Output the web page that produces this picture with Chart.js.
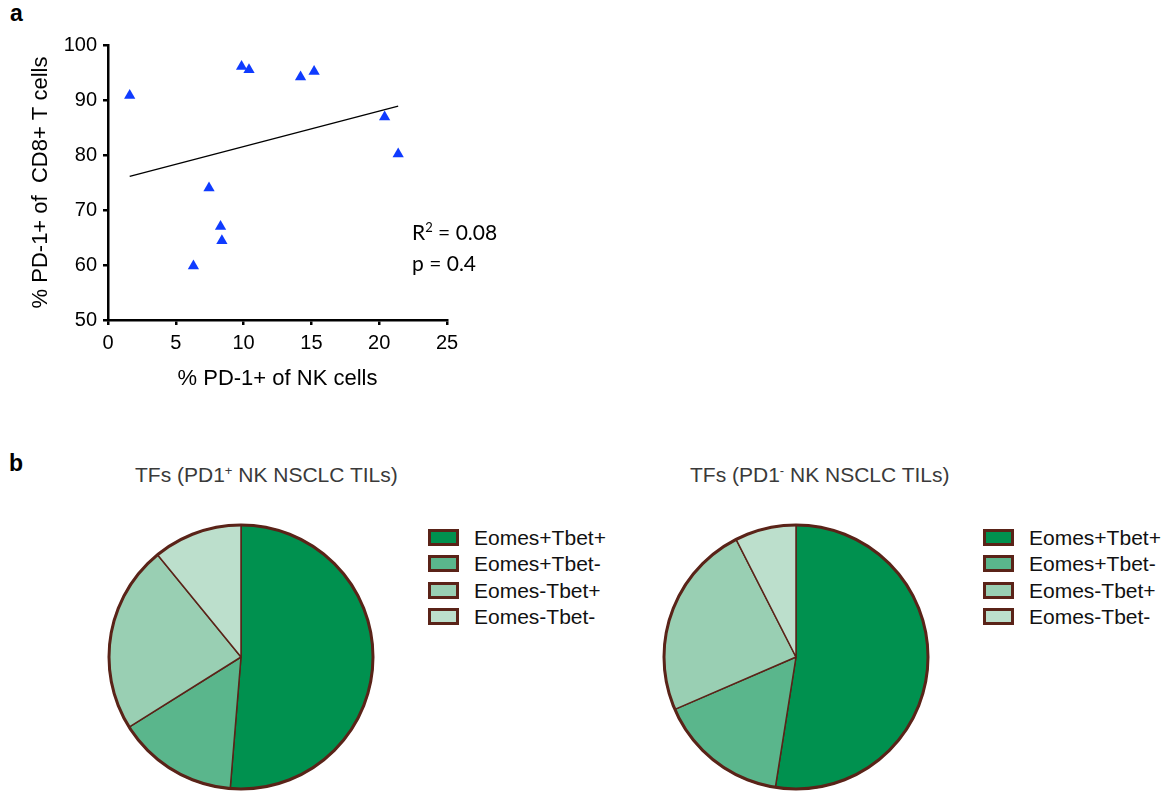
<!DOCTYPE html>
<html>
<head>
<meta charset="utf-8">
<script src="https://cdn.jsdelivr.net/npm/chart.js@4.4.1/dist/chart.umd.min.js"></script>
<style>
  body { margin: 0; background: #fff; width: 1172px; height: 794px; position: relative; overflow: hidden; font-family: "Liberation Sans", Arial, sans-serif; }
  canvas, .abs { position: absolute; }
  .panel { font-weight: bold; font-size: 23px; line-height: 23px; color: #000; }
  .stat { font-family: Lato, sans-serif; font-size: 21px; line-height: 21px; color: #000; }
  .pie-title { font-size: 21px; line-height: 21px; color: #3a3a3a; white-space: nowrap; }
  .pie-title sup { font-size: 13px; vertical-align: 7px; line-height: 0; }
  .stat sup { font-size: 13px; vertical-align: 8px; line-height: 0; }
  .leg-item { position: absolute; height: 17px; white-space: nowrap; }
  .leg-box { position: absolute; left: 0; top: 0; width: 25px; height: 11px; border: 3px solid #5a2318; }
  .leg-text { position: absolute; left: 46px; top: -2px; font-size: 21px; line-height: 21px; color: #111; }
</style>
</head>
<body>
<div class="abs panel" style="left:10px; top:2px;">a</div>
<div class="abs panel" style="left:9px; top:452px;">b</div>

<canvas id="scatter" width="500" height="400" style="left:0; top:0;"></canvas>
<div class="abs stat" style="left:412px; top:221px;">R<sup>2</sup> = 0.08</div>
<div class="abs stat" style="left:412px; top:252px;">p = 0.4</div>

<div class="abs pie-title" style="left:135px; top:464px;">TFs (PD1<sup>+</sup> NK NSCLC TILs)</div>
<div class="abs pie-title" style="left:690px; top:464px;">TFs (PD1<sup>-</sup> NK NSCLC TILs)</div>
<canvas id="pie1" width="300" height="300" style="left:91px; top:507px;"></canvas>
<canvas id="pie2" width="300" height="300" style="left:646px; top:507px;"></canvas>
<div id="legend1"></div>
<div id="legend2"></div>

<script>
// panel a: % PD-1+ of NK cells vs % PD-1+ of CD8+ T cells
const nkPD1 = [1.6, 9.85, 10.4, 14.2, 15.2, 20.4, 21.4, 7.45, 8.3, 8.4, 6.3];
const cd8PD1 = [90.8, 96.1, 95.5, 94.2, 95.2, 86.9, 80.2, 74.0, 67.0, 64.4, 59.8];
const fitX = [1.6, 21.4];
const fitY = [76.1, 88.9];

// panel b: transcription factor subsets (% of NK TILs)
const tfLabels = ["Eomes+Tbet+", "Eomes+Tbet-", "Eomes-Tbet+", "Eomes-Tbet-"];
const pd1PosShares = [51.3, 14.8, 23.0, 10.9];
const pd1NegShares = [52.5, 16.0, 24.0, 7.5];
const tfColors = ["#00914f", "#5ab68c", "#99cfb3", "#bcdfcc"];
const edgeColor = "#5a2318";

const axisFont = { family: "'Liberation Sans', Arial, sans-serif", size: 20 };
const titleFont = { family: "'Liberation Sans', Arial, sans-serif", size: 22 };

function axis(min, max, step, title, fitFn, titlePad) {
  return {
    min, max,
    ticks: { stepSize: step, color: "#000", font: axisFont, padding: 6 },
    grid: { drawOnChartArea: false, drawTicks: true, tickLength: 5, color: "#000", lineWidth: 2.5 },
    border: { color: "#000", width: 2.5 },
    title: { display: true, text: title, color: "#000", font: titleFont, padding: titlePad },
    afterFit: fitFn
  };
}

new Chart(document.getElementById("scatter"), {
  type: "scatter",
  data: {
    datasets: [
      {
        data: nkPD1.map((x, i) => ({ x, y: cd8PD1[i] })),
        pointStyle: "triangle", pointRadius: 6.5,
        backgroundColor: "#0f3bff", borderColor: "#0f3bff", borderWidth: 0
      },
      {
        type: "line",
        data: fitX.map((x, i) => ({ x, y: fitY[i] })),
        borderColor: "#000", borderWidth: 1.3, pointRadius: 0, fill: false
      }
    ]
  },
  options: {
    responsive: false, animation: false,
    layout: { padding: { top: 45, right: 53, left: 0, bottom: 0 } },
    plugins: { legend: { display: false }, tooltip: { enabled: false } },
    scales: {
      x: axis(0, 25, 5, "% PD-1+ of NK cells", s => { s.height = 80; }, { top: 0, bottom: 8 }),
      y: axis(50, 100, 10, "% PD-1+ of  CD8+ T cells", s => { s.width = 108; }, { top: 28, bottom: 0 })
    }
  }
});

// thicker outer rim, like the original figure
const rimPlugin = {
  id: "rim",
  afterDatasetsDraw(chart) {
    const arc = chart.getDatasetMeta(0).data[0];
    if (!arc) return;
    const ctx = chart.ctx;
    ctx.save();
    ctx.beginPath();
    ctx.arc(arc.x, arc.y, arc.outerRadius, 0, Math.PI * 2);
    ctx.lineWidth = 3;
    ctx.strokeStyle = edgeColor;
    ctx.stroke();
    ctx.restore();
  }
};

function makePie(id, values) {
  new Chart(document.getElementById(id), {
    type: "pie",
    data: {
      labels: tfLabels,
      datasets: [{ data: values, backgroundColor: tfColors, borderColor: edgeColor, borderWidth: 1.5 }]
    },
    options: {
      responsive: false, animation: false,
      radius: 132,
      plugins: { legend: { display: false }, tooltip: { enabled: false } }
    },
    plugins: [rimPlugin]
  });
}
makePie("pie1", pd1PosShares);
makePie("pie2", pd1NegShares);

function makeLegend(id, left, top) {
  const el = document.getElementById(id);
  el.innerHTML = tfLabels.map((lab, i) =>
    `<div class="leg-item" style="left:${left}px; top:${top + i * 26.3}px;">
       <div class="leg-box" style="background:${tfColors[i]}"></div>
       <div class="leg-text">${lab}</div>
     </div>`).join("");
}
makeLegend("legend1", 428, 529);
makeLegend("legend2", 983, 529);
</script>
</body>
</html>
